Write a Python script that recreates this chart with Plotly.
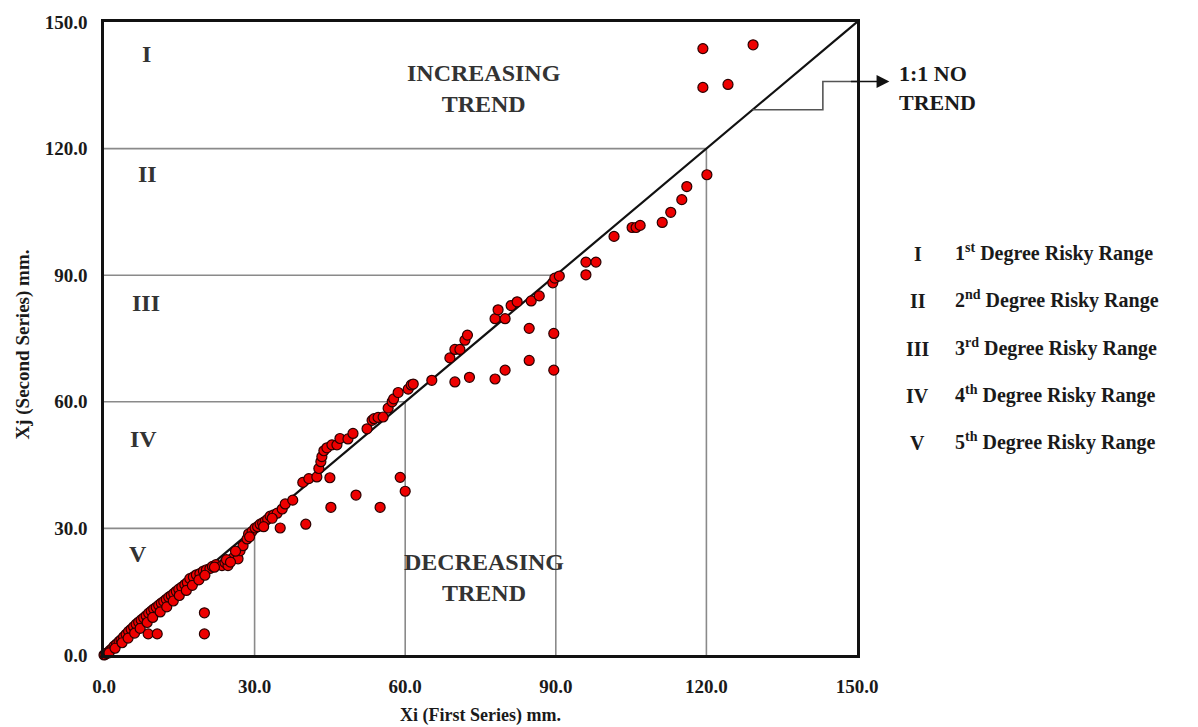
import plotly.graph_objects as go

# ---- data ----
xi = [0.0, 0.2, 0.5, 0.8, 1.2, 1.6, 2.0, 2.5, 3.0, 3.4, 3.9, 4.4, 4.9, 5.4, 5.9, 6.4, 6.9, 7.4, 7.9, 8.4,
      8.9, 9.4, 9.9, 10.4, 10.9, 11.4, 11.9, 12.4, 12.9, 13.4, 13.9, 14.4, 14.9, 15.5, 16.1, 16.6, 17.1, 17.8,
      18.4, 19.1, 19.8, 20.4, 21.1, 21.6, 22.3, 23.5, 24.1, 24.7, 25.7, 26.7, 27.1, 27.7, 28.5, 28.8, 29.5,
      30.1, 30.6, 31.1, 31.6, 32.1, 32.6, 33.1, 33.8, 34.5, 35.5, 36.1, 37.6,
      1.0, 2.2, 3.6, 4.8, 6.1, 7.2, 8.6, 9.7, 11.2, 12.5, 13.8, 15.0, 16.4, 17.6, 18.9, 20.1, 22.0, 24.4,
      25.2, 26.2, 29.0, 31.8, 33.5,
      8.8, 10.6, 20.0, 20.0,
      39.6, 40.8, 42.4, 42.8, 43.2, 43.4, 43.8, 44.4, 45.4, 46.4, 47.0, 48.6, 49.6, 52.4, 53.4, 53.8, 54.6,
      55.6, 56.6, 57.4, 57.7, 58.6, 60.6, 61.2, 61.6, 65.3, 68.9, 69.9, 70.9, 71.9, 72.4,
      35.1, 40.2, 45.0, 45.2, 50.2, 55.0, 59.0, 60.0, 69.9, 72.8,
      77.9, 78.5, 79.9, 81.1, 82.3, 85.1, 86.7, 89.4, 89.8, 90.7,
      77.9, 79.9, 84.7, 89.6, 84.7, 89.6, 96.0, 96.0, 98.0,
      101.6, 105.2, 106.0, 106.8, 111.2, 112.9, 115.1, 116.1, 120.1,
      119.3, 129.3, 119.3, 124.3]
xj = [0.0, 0.1, 0.4, 0.6, 1.1, 1.5, 2.1, 2.6, 3.2, 3.6, 4.3, 4.9, 5.6, 6.1, 6.7, 7.3, 7.8, 8.3, 8.8, 9.3,
      9.9, 10.4, 10.9, 11.3, 11.8, 12.3, 12.7, 13.2, 13.7, 14.1, 14.6, 15.1, 15.6, 16.1, 16.7, 17.2, 18.1, 18.5,
      19.0, 19.3, 19.9, 20.2, 20.5, 21.0, 21.4, 21.2, 21.9, 21.2, 23.0, 22.8, 24.7, 25.9, 27.5, 28.7, 29.3,
      30.1, 30.4, 31.0, 31.3, 31.7, 32.2, 32.9, 33.2, 33.6, 34.6, 35.8, 36.7,
      0.5, 1.6, 2.9, 4.0, 5.2, 6.3, 7.7, 8.9, 10.2, 11.4, 12.8, 14.1, 15.3, 16.5, 17.8, 18.9, 20.8, 22.6,
      22.0, 24.6, 28.0, 30.4, 32.4,
      5.0, 5.0, 10.0, 5.0,
      40.9, 41.8, 42.2, 44.2, 45.8, 47.0, 48.4, 49.1, 49.8, 49.8, 51.3, 51.2, 52.5, 53.6, 55.6, 56.0, 56.3,
      56.4, 58.5, 60.0, 60.7, 62.2, 63.0, 64.0, 64.2, 65.1, 70.4, 72.4, 72.4, 74.6, 75.8,
      30.1, 31.0, 42.0, 35.0, 37.9, 35.0, 42.1, 38.8, 64.7, 65.8,
      79.7, 81.8, 79.7, 82.8, 83.7, 83.9, 85.1, 88.2, 89.3, 89.8,
      65.4, 67.5, 69.8, 67.5, 77.4, 76.2, 90.1, 93.1, 93.1,
      99.2, 101.3, 101.3, 101.8, 102.5, 104.9, 107.9, 111.0, 113.8,
      143.7, 144.6, 134.5, 135.2]

range_limits = [30, 60, 90, 120]
range_numerals = ["I", "II", "III", "IV", "V"]
range_names = ["1<sup>st</sup> Degree Risky Range", "2<sup>nd</sup> Degree Risky Range",
               "3<sup>rd</sup> Degree Risky Range", "4<sup>th</sup> Degree Risky Range",
               "5<sup>th</sup> Degree Risky Range"]
numeral_pos_y = [142.3, 114.0, 83.5, 51.3, 24.0]
numeral_pos_x = [8.4, 8.6, 8.4, 7.8, 6.8]
axis_max = 150
tick_vals = [0, 30, 60, 90, 120, 150]
tick_text = ["0.0", "30.0", "60.0", "90.0", "120.0", "150.0"]
noline_pt = 129.2
connector_x = 143.2
connector_y = 135.9

FONT = "Liberation Serif, Times New Roman, serif"
TXT = "#1a1a1a"

fig = go.Figure()

# step lines for risk ranges
for k in range_limits:
    fig.add_trace(go.Scatter(x=[0, k, k], y=[k, k, 0], mode="lines",
                             line=dict(color="#8a8a8a", width=1.6), hoverinfo="skip",
                             showlegend=False))

# 1:1 line
fig.add_trace(go.Scatter(x=[0, axis_max], y=[0, axis_max], mode="lines",
                         line=dict(color="#111111", width=2.2), showlegend=False))

# connector to the 1:1 label
fig.add_trace(go.Scatter(x=[noline_pt, connector_x, connector_x, axis_max],
                         y=[noline_pt, noline_pt, connector_y, connector_y], mode="lines",
                         line=dict(color="#555555", width=1.6), showlegend=False, cliponaxis=False))

# data points
fig.add_trace(go.Scatter(x=xi, y=xj, mode="markers",
                         marker=dict(size=10, color="#ee0000", line=dict(color="#2a0000", width=1.2)),
                         showlegend=False, cliponaxis=False))

ann = []
# arrow to label
ann.append(dict(x=1.043, xref="paper", y=connector_y, yref="y", ax=-40, ay=0, axref="pixel",
                ayref="pixel", text="", showarrow=True, arrowhead=2, arrowsize=1.6, arrowwidth=1.6,
                arrowcolor="#111111"))
ann.append(dict(x=1.053, xref="paper", y=0.895, yref="paper", text="1:1 NO<br>TREND",
                showarrow=False, xanchor="left", yanchor="middle", align="left",
                font=dict(family=FONT, size=22, color=TXT, weight="bold")))
ann.append(dict(x=75.7, y=134.3, text="INCREASING<br>TREND", showarrow=False,
                font=dict(family=FONT, size=24, color="#333333", weight="bold")))
ann.append(dict(x=75.7, y=18.3, text="DECREASING<br>TREND", showarrow=False,
                font=dict(family=FONT, size=24, color="#333333", weight="bold")))
for nx, ny, t in zip(numeral_pos_x, numeral_pos_y, range_numerals):
    ann.append(dict(x=nx, y=ny, text=t, showarrow=False,
                    font=dict(family=FONT, size=24, color="#333333", weight="bold")))
# key on the right
for i, (t, name) in enumerate(zip(range_numerals, range_names)):
    ypix = 264 + i * 47.7  # bottom of text box
    yp = 1 - (ypix - 17) / (655 - 17)
    ann.append(dict(x=1.081, xref="paper", y=yp, yref="paper", text=t, showarrow=False,
                    xanchor="center", yanchor="bottom",
                    font=dict(family=FONT, size=20, color=TXT, weight="bold")))
    ann.append(dict(x=1.128, xref="paper", y=yp, yref="paper", text=name, showarrow=False,
                    xanchor="left", yanchor="bottom",
                    font=dict(family=FONT, size=20, color=TXT, weight="bold")))
# axis titles
ann.append(dict(x=0.5, xref="paper", y=-0.095, yref="paper", yanchor="middle",
                text="Xi (First Series) mm.", showarrow=False,
                font=dict(family=FONT, size=18, color=TXT, weight="bold")))
ann.append(dict(x=-0.108, xref="paper", y=0.49, yref="paper", xanchor="center",
                text="Xj (Second Series) mm.", showarrow=False, textangle=-90,
                font=dict(family=FONT, size=19, color=TXT, weight="bold")))

axis_common = dict(range=[0, axis_max], tickvals=tick_vals, ticktext=tick_text, showgrid=False,
                   zeroline=False, showline=True, linecolor="#111111", linewidth=2.5, mirror=True,
                   ticks="", tickfont=dict(family=FONT, size=19, color=TXT, weight="bold"))

fig.update_layout(
    width=1198, height=727,
    margin=dict(l=104, r=341, t=17, b=72),
    paper_bgcolor="white", plot_bgcolor="white",
    xaxis=dict(**axis_common, ticklabelstandoff=12),
    yaxis=dict(**axis_common, ticklabelstandoff=10),
    annotations=ann,
)

fig.write_html("out.html")
